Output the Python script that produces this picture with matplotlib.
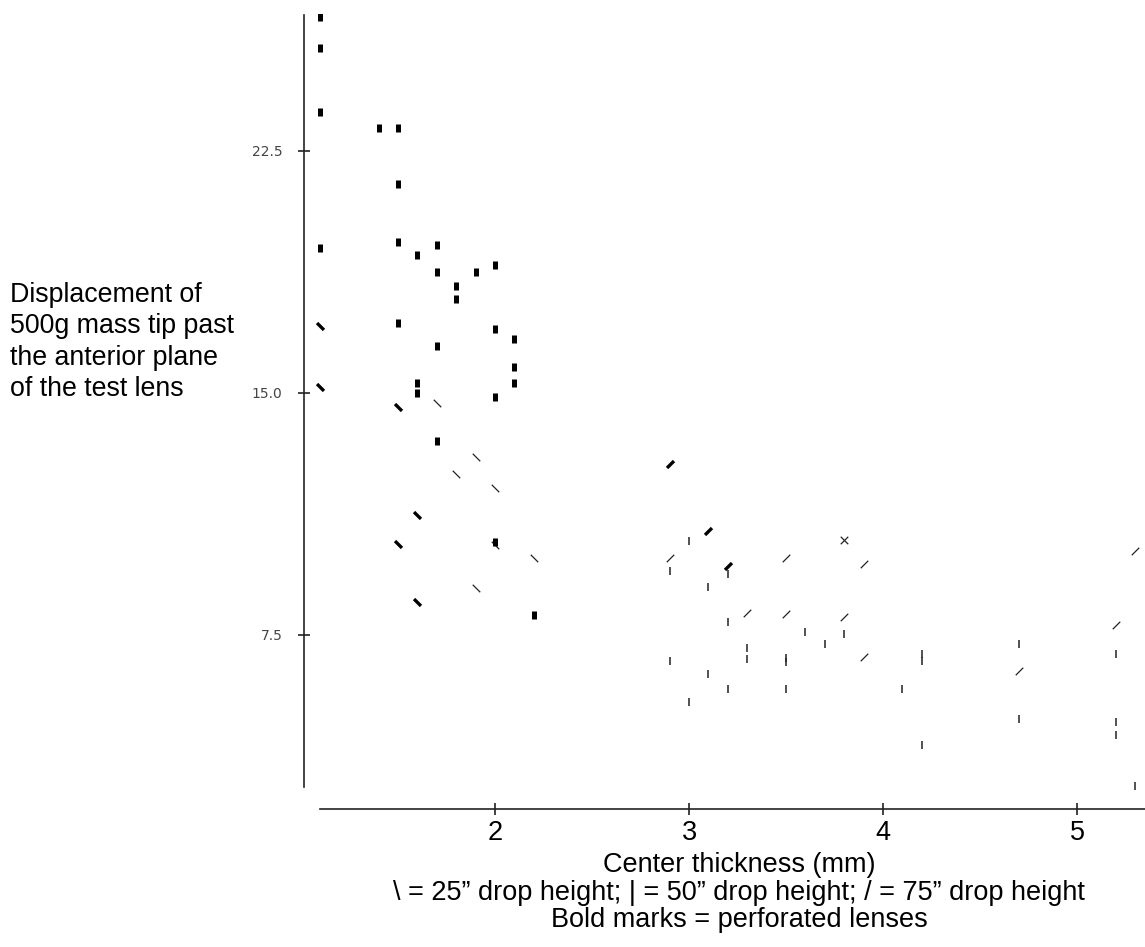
import numpy as np
import matplotlib
matplotlib.use("Agg")
import matplotlib.pyplot as plt
from matplotlib.path import Path

plt.rcParams['font.family'] = ['Liberation Sans', 'DejaVu Sans']

# 25" drop height (\)
thin25_x = [1.7, 1.9, 1.8, 2.0, 2.0, 2.2, 1.9, 3.8]
thin25_y = [14.68, 13.0, 12.5, 12.07, 10.3, 9.90, 8.97, 10.44]
bold25_x = [1.1, 1.1, 1.5, 1.6, 1.5, 1.6]
bold25_y = [17.08, 15.19, 14.57, 11.22, 10.31, 8.53]

# 50" drop height (|)
thin50_x = [3.0, 2.9, 3.2, 3.1, 3.2, 3.6, 3.8, 3.7, 3.3, 3.3, 2.9, 3.5, 3.5,
            3.1, 3.2, 3.5, 3.0, 4.7, 5.2, 4.2, 4.2, 4.1, 4.7, 5.2, 5.2, 4.2, 5.3]
thin50_y = [10.42, 9.49, 9.40, 8.99, 7.91, 7.60, 7.52, 7.21, 7.10, 6.77, 6.70, 6.80, 6.65,
            6.28, 5.83, 5.83, 5.41, 7.21, 6.90, 6.90, 6.70, 5.83, 4.91, 4.81, 4.40, 4.09, 2.83]
bold50_x = [1.1, 1.1, 1.1, 1.1, 1.4, 1.5, 1.5, 1.5, 1.5, 1.6, 1.6, 1.6,
            1.7, 1.7, 1.7, 1.7, 1.8, 1.8, 1.9, 2.0, 2.0, 2.0, 2.0, 2.1, 2.1, 2.1, 2.2]
bold50_y = [26.66, 25.7, 23.7, 19.48, 23.2, 23.2, 21.47, 19.68, 17.18, 19.27, 15.32, 14.99,
            19.58, 18.75, 16.47, 13.52, 18.31, 17.91, 18.75, 18.96, 16.98, 14.88, 10.39,
            16.67, 15.81, 15.30, 8.12]

# 75" drop height (/)
thin75_x = [2.9, 3.5, 3.9, 3.3, 3.5, 3.8, 3.9, 5.3, 5.2, 4.7, 3.8]
thin75_y = [9.90, 9.90, 9.70, 8.17, 8.15, 8.06, 6.82, 10.1, 7.81, 6.38, 10.44]
bold75_x = [2.9, 3.1, 3.2]
bold75_y = [12.8, 10.73, 9.65]

back = Path([(-1, 1), (1, -1)], [Path.MOVETO, Path.LINETO])
fwd = Path([(-1, -1), (1, 1)], [Path.MOVETO, Path.LINETO])
vbar = Path([(0, -1), (0, 1)], [Path.MOVETO, Path.LINETO])

fig = plt.figure(figsize=(11.45, 9.47), dpi=100)
ax = fig.add_axes([0.2629, 0.1455, 0.7371, 0.8399])
ax.set_xlim(1.0, 5.35)
ax.set_ylim(2.1, 26.75)

ink = '#222222'
ax.plot(thin25_x, thin25_y, ls='none', marker=back, ms=5.4, mew=0.9, color=ink)
ax.plot(thin50_x, thin50_y, ls='none', marker=vbar, ms=6, mew=1.1, color=ink)
ax.plot(thin75_x, thin75_y, ls='none', marker=fwd, ms=5.4, mew=0.9, color=ink)
ax.plot(bold25_x, bold25_y, ls='none', marker=back, ms=5, mew=2.4, color='black')
ax.plot(bold50_x, bold50_y, ls='none', marker=vbar, ms=5.8, mew=3.6, color='black')
ax.plot(bold75_x, bold75_y, ls='none', marker=fwd, ms=5, mew=2.4, color='black')

for s in ['top', 'right']:
    ax.spines[s].set_visible(False)
ax.spines['left'].set_position(('data', 1.015))
ax.spines['left'].set_bounds(2.8, 26.7)
ax.spines['bottom'].set_bounds(1.1, 5.35)
for s in ['left', 'bottom']:
    ax.spines[s].set_linewidth(1.2)
    ax.spines[s].set_color(ink)

ax.set_xticks([2, 3, 4, 5])
ax.set_xticklabels(['2', '3', '4', '5'])
ax.set_yticks([7.5, 15.0, 22.5])
ax.set_yticklabels(['7.5', '15.0', '22.5'])
ax.tick_params(axis='x', direction='inout', length=8, width=1.2, color=ink,
               labelsize=19.5, pad=4)
ax.tick_params(axis='y', direction='inout', length=8.6, width=1.2, color=ink,
               labelsize=10, pad=11, labelcolor='#444444')
for lab in ax.get_yticklabels():
    lab.set_fontfamily('DejaVu Sans')

fig.text(10 / 1145, 1 - 342 / 947,
         "Displacement of\n500g mass tip past\nthe anterior plane\nof the test lens",
         ha='left', va='center', fontsize=19.3, linespacing=1.28)

cx = 0.6454
fig.text(cx, 1 - 865 / 947, "Center thickness (mm)", ha='center', va='center', fontsize=19.5)
fig.text(cx, 1 - 893 / 947,
         "\\ = 25\u201d drop height; | = 50\u201d drop height; / = 75\u201d drop height",
         ha='center', va='center', fontsize=19.5)
fig.text(cx, 1 - 920 / 947, "Bold marks = perforated lenses", ha='center', va='center', fontsize=19.5)

fig.savefig("out.png", dpi=100)
